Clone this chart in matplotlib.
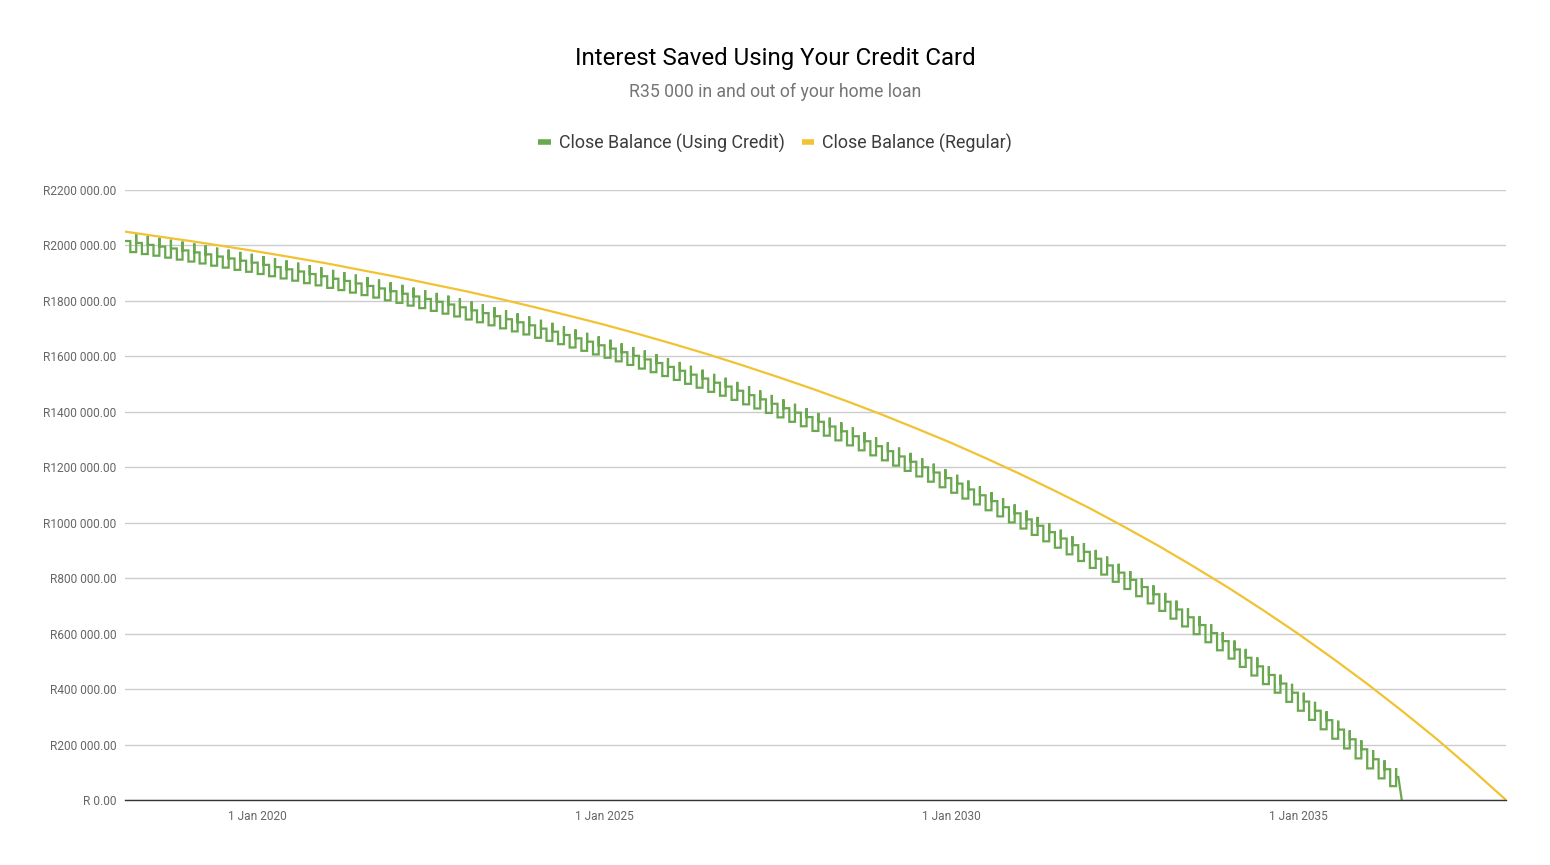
import matplotlib
matplotlib.use("Agg")
import matplotlib.pyplot as plt
import pandas as pd
from matplotlib.lines import Line2D

plt.rcParams['font.family'] = ['Roboto', 'DejaVu Sans']

# ---------------- data ----------------
title = "Interest Saved Using Your Credit Card"
subtitle = "R35 000 in and out of your home loan"
series_names = ["Close Balance (Using Credit)", "Close Balance (Regular)"]

# Regular bond close balance (R thousands), read at half-yearly points
regular_dates = ["2018-02-01", "2018-07-01", "2019-01-01", "2019-07-01", "2020-01-01",
                 "2020-07-01", "2021-01-01", "2021-07-01", "2022-01-01", "2022-07-01",
                 "2023-01-01", "2023-07-01", "2024-01-01", "2024-07-01", "2025-01-01",
                 "2025-07-01", "2026-01-01", "2026-07-01", "2027-01-01", "2027-07-01",
                 "2028-01-01", "2028-07-01", "2029-01-01", "2029-07-01", "2030-01-01",
                 "2030-07-01", "2031-01-01", "2031-07-01", "2032-01-01", "2032-07-01",
                 "2033-01-01", "2033-07-01", "2034-01-01", "2034-07-01", "2035-01-01",
                 "2035-07-01", "2036-01-01", "2036-07-01", "2037-01-01", "2037-07-01",
                 "2038-01-01"]
regular_balance_k = [2050, 2035, 2017, 1998, 1978, 1957, 1935, 1911, 1887, 1861,
                     1835, 1807, 1777, 1746, 1714, 1680, 1644, 1607, 1567, 1526,
                     1483, 1438, 1390, 1340, 1288, 1233, 1175, 1115, 1052, 985,
                     915, 842, 765, 685, 600, 512, 419, 322, 220, 113,
                     0]

# Using-credit bond: opening level, then the low level of each two-month cycle (R thousands)
credit_start = "2018-02-01"
credit_open_k = 2016
credit_low_k = [1976, 1969, 1963, 1956, 1949, 1942, 1935, 1927, 1920, 1912,
                1905, 1897, 1889, 1881, 1873, 1864, 1856, 1847, 1839, 1830,
                1821, 1812, 1802, 1793, 1783, 1774, 1764, 1754, 1744, 1733,
                1723, 1712, 1701, 1690, 1679, 1667, 1656, 1644, 1632, 1620,
                1607, 1595, 1582, 1569, 1556, 1543, 1529, 1515, 1501, 1487,
                1472, 1458, 1443, 1427, 1412, 1396, 1380, 1364, 1348, 1331,
                1314, 1297, 1279, 1261, 1243, 1225, 1206, 1187, 1167, 1148,
                1128, 1108, 1087, 1066, 1045, 1023, 1001, 979, 956, 933,
                910, 886, 862, 837, 813, 787, 761, 735, 709, 682,
                654, 626, 598, 569, 540, 510, 480, 449, 418, 387,
                354, 322, 289, 255, 221, 186, 150, 114, 78, 50,
                0]
card_spike_k = 65    # rise when the card is settled out of the bond
card_settle_k = 32   # fall back right after the spike

y_ticks = [0, 200000, 400000, 600000, 800000, 1000000, 1200000, 1400000,
           1600000, 1800000, 2000000, 2200000]
y_tick_labels = ["R 0.00", "R200 000.00", "R400 000.00", "R600 000.00", "R800 000.00",
                 "R1000 000.00", "R1200 000.00", "R1400 000.00", "R1600 000.00",
                 "R1800 000.00", "R2000 000.00", "R2200 000.00"]
x_ticks = ["2020-01-01", "2025-01-01", "2030-01-01", "2035-01-01"]
x_tick_labels = ["1 Jan 2020", "1 Jan 2025", "1 Jan 2030", "1 Jan 2035"]
x_range = ["2018-02-01", "2038-01-01"]

green = "#6aa84f"
yellow = "#f1c232"

# ---------------- build green step path ----------------
months = pd.date_range(credit_start, periods=2 * len(credit_low_k) + 2, freq="MS")
gx = [months[0], months[1], months[1], months[2]]
gy = [credit_open_k, credit_open_k, credit_low_k[0], credit_low_k[0]]
for k in range(1, len(credit_low_k)):
    top = credit_low_k[k - 1] + card_spike_k
    mid = top - card_settle_k
    if credit_low_k[k] > 0:
        gx += [months[2 * k], months[2 * k], months[2 * k + 1], months[2 * k + 1],
               months[2 * k + 2]]
        gy += [top, mid, mid, credit_low_k[k], credit_low_k[k]]
    else:
        # loan paid off: falls straight to zero after the last settlement
        gx += [months[2 * k], months[2 * k], months[2 * k] + pd.Timedelta(days=12),
               months[2 * k + 1]]
        gy += [top, mid, mid, credit_low_k[k]]
gy = [v * 1000 for v in gy]

rx = pd.to_datetime(regular_dates)
ry = [v * 1000 for v in regular_balance_k]

# ---------------- figure ----------------
fig = plt.figure(figsize=(15.5, 8.65), dpi=100)
ax = fig.add_axes([125 / 1550, 1 - 800 / 865, (1506 - 125) / 1550, (800 - 190) / 865])

ax.plot(gx, gy, color=green, lw=1.6, solid_joinstyle="miter", zorder=3)
ax.plot(rx, ry, color=yellow, lw=1.6, zorder=3)

ax.set_xlim(pd.Timestamp(x_range[0]), pd.Timestamp(x_range[1]))
ax.set_ylim(0, 2200000)
ax.set_yticks(y_ticks)
ax.set_yticklabels(y_tick_labels)
ax.set_xticks(pd.to_datetime(x_ticks))
ax.set_xticklabels(x_tick_labels)

ax.yaxis.grid(True, color="#cccccc", lw=1)
ax.set_axisbelow(True)
for s in ["top", "right", "left"]:
    ax.spines[s].set_visible(False)
ax.spines["bottom"].set_color("#333333")
ax.spines["bottom"].set_linewidth(1)
ax.spines["bottom"].set_zorder(4)
ax.tick_params(axis="both", length=0, labelsize=8.6, labelcolor="#666666")
ax.tick_params(axis="y", pad=6)
ax.tick_params(axis="x", pad=7)

fig.text(0.5, 1 - 58 / 865, title, ha="center", va="center", fontsize=17.3, color="#000000")
fig.text(0.5, 1 - 92 / 865, subtitle, ha="center", va="center", fontsize=12.7, color="#757575")

handles = [Line2D([0], [0], color=green, lw=4, solid_capstyle="butt"),
           Line2D([0], [0], color=yellow, lw=4, solid_capstyle="butt")]
fig.legend(handles, series_names, loc="center", bbox_to_anchor=(0.5, 1 - 143 / 865),
           ncol=2, frameon=False, fontsize=12.9, handlelength=0.7, handletextpad=0.45,
           columnspacing=0.95, labelcolor="#3c3c3c")

fig.savefig("out.png", dpi=100)
